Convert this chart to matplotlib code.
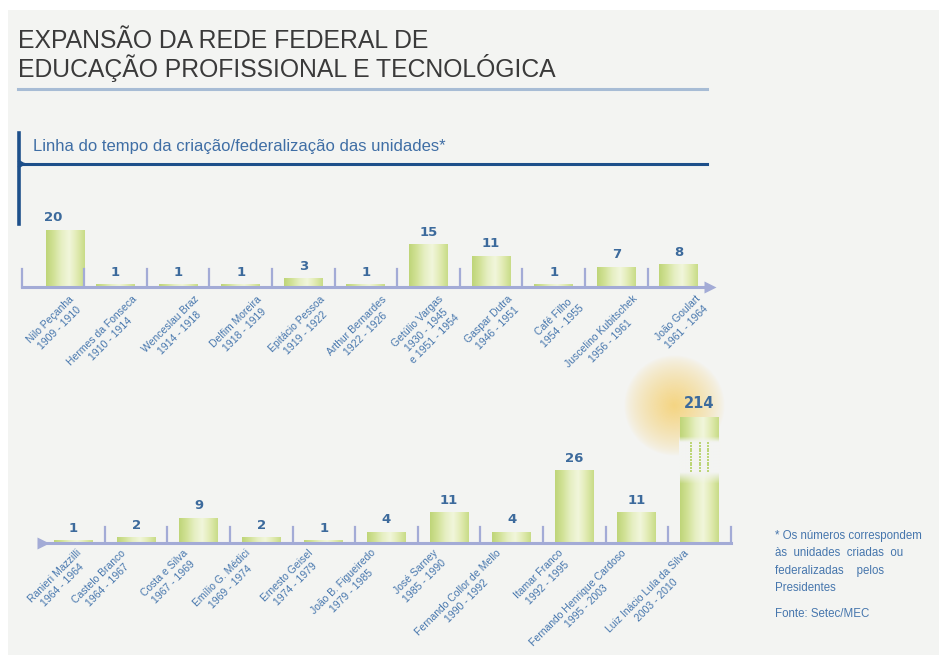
import numpy as np
import matplotlib
matplotlib.use("Agg")
import matplotlib.pyplot as plt
from matplotlib.colors import LinearSegmentedColormap, to_rgb
from matplotlib.patches import Rectangle

# data
top_names = ["Nilo Peçanha\n1909 - 1910", "Hermes da Fonseca\n1910 - 1914",
             "Wenceslau Braz\n1914 - 1918", "Delfim Moreira\n1918 - 1919",
             "Epitácio Pessoa\n1919 - 1922", "Arthur Bernardes\n1922 - 1926",
             "Getúlio Vargas\n1930 - 1945\ne 1951 - 1954", "Gaspar Dutra\n1946 - 1951",
             "Café Filho\n1954 - 1955", "Juscelino Kubitschek\n1956 - 1961",
             "João Goulart\n1961 - 1964"]
top_values = [20, 1, 1, 1, 3, 1, 15, 11, 1, 7, 8]

bottom_names = ["Ranieri Mazzilli\n1964 - 1964", "Castelo Branco\n1964 - 1967",
                "Costa e Silva\n1967 - 1969", "Emílio G. Médici\n1969 - 1974",
                "Ernesto Geisel\n1974 - 1979", "João B. Figueiredo\n1979 - 1985",
                "José Sarney\n1985 - 1990", "Fernando Collor de Mello\n1990 - 1992",
                "Itamar Franco\n1992 - 1995", "Fernando Henrique Cardoso\n1995 - 2003",
                "Luiz Inácio Lula da Silva\n2003 - 2010"]
bottom_values = [1, 2, 9, 2, 1, 4, 11, 4, 26, 11, 214]

title = "EXPANSÃO DA REDE FEDERAL DE\nEDUCAÇÃO PROFISSIONAL E TECNOLÓGICA"
subtitle = "Linha do tempo da criação/federalização das unidades*"
note_lines = ["* Os números correspondem", "às  unidades  criadas  ou",
              "federalizadas    pelos", "Presidentes"]
source = "Fonte: Setec/MEC"

BG = "#f3f4f2"
AXIS = "#a3abd6"
BLUE_TXT = "#4676ad"
NUM_TXT = "#3c6a9c"
FONT = ["Liberation Sans", "DejaVu Sans"]

W, H = 939, 655
fig = plt.figure(figsize=(W / 100, H / 100), dpi=100)
fig.patch.set_facecolor("white")
fig.add_artist(Rectangle((8 / W, 0), 1, 1 - 10 / H, transform=fig.transFigure,
                         facecolor=BG, edgecolor="none", zorder=-10))


def px_box(x0, y0, x1, y1):
    return [x0 / W, 1 - y1 / H, (x1 - x0) / W, (y1 - y0) / H]


# titles
fig.text(18 / W, 1 - 55.5 / H, title, fontsize=17.8, color="#3a3a3a", va="center",
         linespacing=1.05, family=FONT)
fig.add_artist(plt.Line2D([18 / W, 707 / W], [1 - 89 / H] * 2, color="#a7bcd5", lw=2.2))
fig.text(33 / W, 1 - 146 / H, subtitle, fontsize=12, color="#3f6ea5", va="center",
         family=FONT)
fig.add_artist(plt.Line2D([19 / W, 707 / W], [1 - 164 / H] * 2, color="#1d4f8a", lw=2.2))
fig.add_artist(plt.Line2D([19 / W, 19 / W], [1 - 133 / H, 1 - 224 / H], color="#1d4f8a", lw=2.6))
fig.add_artist(plt.Line2D([19 / W, 24 / W], [1 - 161 / H, 1 - 164 / H], color="#1d4f8a", lw=1.5))
fig.add_artist(plt.Line2D([19 / W, 24 / W], [1 - 167 / H, 1 - 164 / H], color="#1d4f8a", lw=1.5))

grad_cmap = LinearSegmentedColormap.from_list(
    "bar", ["#bfd579", "#d2e298", "#e6efc3", "#f1f6db", "#e1ebb3", "#c9dc88"])
grad = np.linspace(0, 1, 64).reshape(1, -1)


def draw_bars(ax, xs, heights):
    bars = ax.bar(xs, heights, width=0.62, color="#d6e5a0", edgecolor="none", zorder=2)
    for b in bars:
        x0, y0 = b.get_x(), b.get_y()
        im = ax.imshow(grad, cmap=grad_cmap, aspect="auto", zorder=3,
                       extent=[x0, x0 + b.get_width(), y0, y0 + b.get_height()])
        im.set_clip_path(b)
    return bars


def draw_labels(ax, names, dxs, dy):
    for i, name in enumerate(names):
        ax.annotate(name, xy=(i, 0), xytext=(dxs[i], dy), textcoords="offset points",
                    rotation=45, rotation_mode="anchor", ha="right", va="top",
                    multialignment="center", fontsize=7.5, color=BLUE_TXT,
                    family=FONT, linespacing=1.3, annotation_clip=False)


def draw_values(ax, xs, heights, values, big_at=None):
    for i, v in enumerate(values):
        big = big_at is not None and v > big_at
        ax.annotate(str(v), xy=(xs[i], heights[i]), xytext=(0, 4), textcoords="offset points",
                    ha="center", va="bottom", fontsize=10.5 if big else 9.5,
                    fontweight="bold", color=NUM_TXT, family="DejaVu Sans",
                    annotation_clip=False, zorder=6)


# ---------- top timeline ----------
ax1 = fig.add_axes(px_box(19, 190, 720, 287))
n1 = len(top_values)
ax1.set_xlim((19 - 52.9) / 62.6, (720 - 52.9) / 62.6)
ax1.set_ylim(0, 97 / 2.85)
ax1.axis("off")
xs1 = np.arange(n1, dtype=float)
bar_x1 = xs1.copy()
bar_x1[0] += 0.2
draw_bars(ax1, bar_x1, top_values)
draw_values(ax1, xs1, top_values, top_values)
ax1.plot([-0.5, 10.45], [0, 0], color=AXIS, lw=2.2, clip_on=False, zorder=4)
ax1.plot([10.5], [0], marker=">", ms=9, color=AXIS, clip_on=False, zorder=4, mec="none")
for s in np.arange(-0.5, n1 - 1, 1.0):
    ax1.plot([s, s], [0, 6.3], color=AXIS, lw=1.6, clip_on=False, zorder=4)
top_dx = [11.5] * n1
top_dx[6] = 7
draw_labels(ax1, top_names, top_dx, -5)

# ---------- bottom timeline ----------
ax2 = fig.add_axes(px_box(30, 340, 740, 543))
n2 = len(bottom_values)
ax2.set_xlim((30 - 73.5) / 62.6, (740 - 73.5) / 62.6)
ax2.set_ylim(0, 203 / 2.8)
ax2.axis("off")
xs2 = np.arange(n2, dtype=float)
cap = 45.0
shown = np.minimum(bottom_values, cap)
draw_bars(ax2, xs2, shown)
draw_values(ax2, xs2, shown, bottom_values, big_at=cap)

# break in the tallest bar
k = int(np.argmax(bottom_values))
lo, hi = 0.56 * cap, 0.80 * cap
fade = np.interp(np.linspace(lo - 4, hi + 2, 80), [lo - 4, lo, hi, hi + 2], [0, 1, 1, 0])
cover = np.zeros((80, 1, 4))
cover[..., :3] = to_rgb(BG)
cover[:, 0, 3] = fade
ax2.imshow(cover, origin="lower", aspect="auto", zorder=4,
           extent=[k - 0.33, k + 0.33, lo - 4, hi + 2])
dot_x, dot_y = np.meshgrid([k - 0.14, k, k + 0.14], np.arange(lo + 0.5, hi - 0.2, 1.0))
ax2.scatter(dot_x.ravel(), dot_y.ravel(), s=4, marker="s", color="#bcd577",
            linewidths=0, zorder=5)

# glow behind the tallest bar's label
yy, xx = np.mgrid[-1:1:200j, -1:1:200j]
r = np.sqrt(xx ** 2 + yy ** 2)
glow = np.zeros((200, 200, 4))
glow[..., :3] = to_rgb("#f5cd66")
glow[..., 3] = np.clip(1 - r, 0, 1) ** 0.75 * 0.8
ax2.imshow(glow, aspect="auto", zorder=1,
           extent=[k - 0.4 - 0.8, k - 0.4 + 0.8, cap + 4 - 18, cap + 4 + 18])

ax2.plot([-0.55, 10.5], [0, 0], color=AXIS, lw=2.2, clip_on=False, zorder=4)
ax2.plot([-0.48], [0], marker=">", ms=9, color=AXIS, clip_on=False, zorder=4, mec="none")
for s in np.arange(0.5, n2, 1.0):
    ax2.plot([s, s], [0, 5.7], color=AXIS, lw=1.6, clip_on=False, zorder=4)
bot_dx = [-11.5] * n2
bot_dx[0] = 1.5
draw_labels(ax2, bottom_names, bot_dx, -3.5)

# footnote
for j, line in enumerate(note_lines):
    fig.text(775 / W, 1 - (536 + 17.3 * j) / H, line, fontsize=8.3, color=BLUE_TXT,
             va="center", family=FONT)
fig.text(775 / W, 1 - 614 / H, source, fontsize=8.3, color=BLUE_TXT, va="center", family=FONT)

fig.savefig("out.png", dpi=100, facecolor=fig.get_facecolor())
